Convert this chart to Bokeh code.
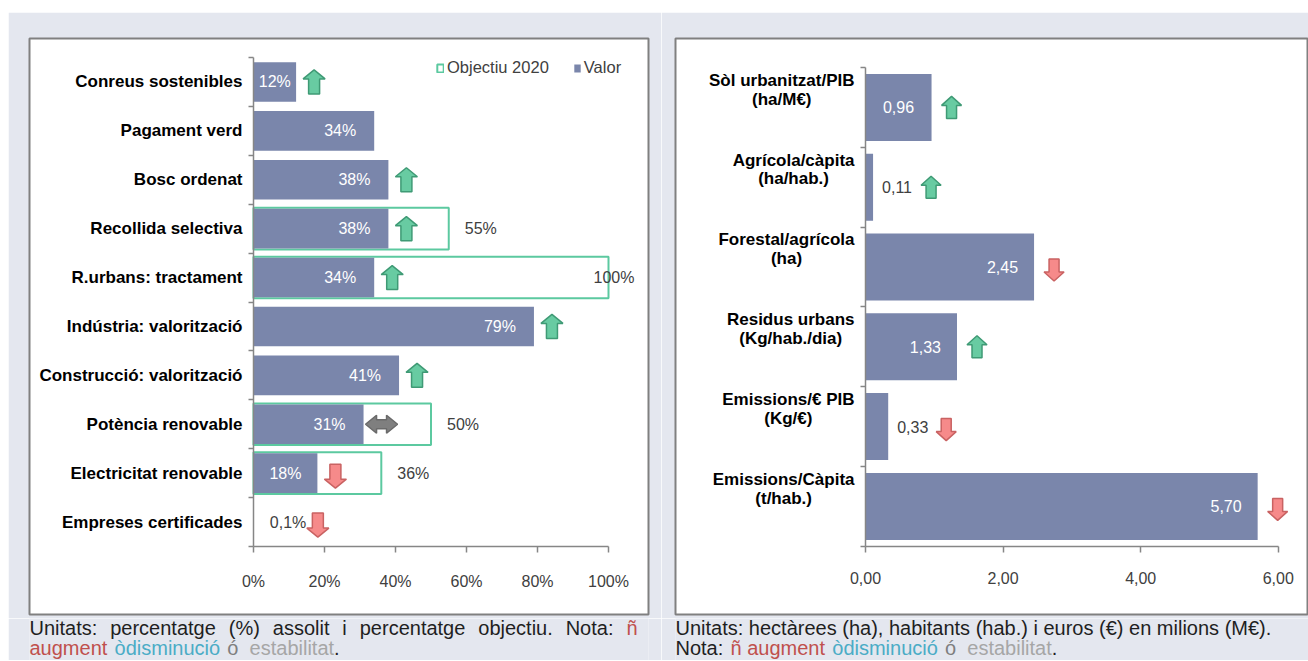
from bokeh.plotting import figure
from bokeh.models import Range1d, LinearAxis, FixedTicker, Legend, LegendItem, Spacer
from bokeh.layouts import row, column
from bokeh.embed import file_html
from bokeh.resources import INLINE
from bokeh.core.properties import value

# ------------------------------------------------------------------ data
left_categories = ["Conreus sostenibles", "Pagament verd", "Bosc ordenat", "Recollida selectiva",
                   "R.urbans: tractament", "Indústria: valorització", "Construcció: valorització",
                   "Potència renovable", "Electricitat renovable", "Empreses certificades"]
left_values = [12, 34, 38, 38, 34, 79, 41, 31, 18, 0.1]
left_targets = [None, None, None, 55, 100, None, None, 50, 36, None]
left_trends = ["up", None, "up", "up", "up", "up", "up", "flat", "down", "down"]
left_ticks = [0, 20, 40, 60, 80, 100]

right_categories = ["Sòl urbanitzat/PIB", "Agrícola/càpita", "Forestal/agrícola",
                    "Residus urbans", "Emissions/€ PIB", "Emissions/Càpita"]
right_units = ["(ha/M€)", "(ha/hab.)", "(ha)", "(Kg/hab./dia)", "(Kg/€)", "(t/hab.)"]
right_values = [0.96, 0.11, 2.45, 1.33, 0.33, 5.70]
right_trends = ["up", "up", "down", "up", "down", "down"]
right_ticks = [0, 2, 4, 6]

legend_labels = ["Objectiu 2020", "Valor"]

# ------------------------------------------------------------------ style
BG = "#E4E7EF"
FONT = "Liberation Sans"
BAR = "#7A86AB"
TARGET = "#5CC9A0"
AXIS = "#868686"
DARK = "#404040"
UP_FILL, UP_LINE = "#68CBA2", "#3F9A75"
DN_FILL, DN_LINE = "#F68A8A", "#C96262"
EQ_FILL, EQ_LINE = "#7F7F7F", "#6A6A6A"
CAT_FS = 17

# Arial / Liberation Sans Bold advance widths (1/1000 em)
BW = {" ": 278, "(": 333, ")": 333, "/": 278, ".": 278, "€": 556, "a": 556, "b": 611, "c": 556,
      "d": 611, "e": 556, "g": 611, "h": 611, "i": 278, "k": 556, "l": 278, "m": 889, "n": 611,
      "o": 611, "p": 611, "r": 389, "s": 556, "t": 333, "u": 611, "z": 500, "à": 556, "ò": 611,
      "í": 278, "A": 722, "B": 722, "C": 722, "E": 667, "F": 611, "G": 778, "I": 278, "K": 722,
      "M": 833, "P": 667, "R": 722, "S": 667}


def bold_w(s, fs):
    return sum(BW.get(c, 611) for c in s) * fs / 1000.0


def arrow_patch(kind, xc, yc, kx, ky, W, H, S, Hh):
    if kind == "flat":
        L, T, hl = 32, 18, 11
        pts = [(-L / 2, 0), (-L / 2 + hl, -T / 2), (-L / 2 + hl, -T / 4), (L / 2 - hl, -T / 4),
               (L / 2 - hl, -T / 2), (L / 2, 0), (L / 2 - hl, T / 2), (L / 2 - hl, T / 4),
               (-L / 2 + hl, T / 4), (-L / 2 + hl, T / 2)]
    else:
        pts = [(0, -H / 2), (W / 2, -H / 2 + Hh), (S / 2, -H / 2 + Hh), (S / 2, H / 2),
               (-S / 2, H / 2), (-S / 2, -H / 2 + Hh), (-W / 2, -H / 2 + Hh)]
        if kind == "down":
            pts = [(dx, -dy + 3) for dx, dy in pts]
    return [xc + dx / kx for dx, dy in pts], [yc + dy / ky for dx, dy in pts]


def make_chart(width, height, borders, categories, values, ticks, tick_fmt, px_per_x, zero_px,
               row_px, top_px, bar_h, label_fmt, trends, arrow_gaps, arrow_size,
               inside_pad, outside_pad, label_dy=0.0, targets=None, units=None, units_dy=0.0):
    bl, br, bt, bb = borders
    fw, fh = width - bl - br, height - bt - bb
    n = len(categories)
    x0 = -zero_px / px_per_x
    x1 = x0 + fw / px_per_x
    ytop = -0.5 - top_px / row_px
    ybot = ytop + fh / row_px
    p = figure(width=width, height=height, x_range=Range1d(x0, x1), y_range=Range1d(ybot, ytop),
               output_backend="svg", toolbar_location=None,
               min_border_left=bl, min_border_right=br, min_border_top=bt, min_border_bottom=bb,
               background_fill_color="white", border_fill_color=BG,
               outline_line_color="#808080", outline_line_width=2)
    p.grid.visible = False

    xa = p.xaxis[0]
    xa.fixed_location = n - 0.5
    xa.bounds = (0, ticks[-1])
    xa.ticker = FixedTicker(ticks=ticks)
    xa.major_label_overrides = {t: tick_fmt(t) for t in ticks}
    xa.axis_line_color = AXIS
    xa.axis_line_width = 1.5
    xa.major_tick_line_color = AXIS
    xa.major_tick_line_width = 1.5
    xa.major_tick_in = 0
    xa.major_tick_out = 6
    xa.minor_tick_line_color = None
    xa.major_label_standoff = 20
    xa.major_label_text_font = FONT
    xa.major_label_text_font_size = "16px"
    xa.major_label_text_color = DARK

    ya = p.yaxis[0]
    ya.fixed_location = 0
    bticks = [i - 0.5 for i in range(n + 1)]
    ya.ticker = FixedTicker(ticks=bticks)
    ya.major_label_overrides = {t: "" for t in bticks}
    ya.bounds = (-0.5, n - 0.5)
    ya.axis_line_color = AXIS
    ya.axis_line_width = 1.5
    ya.major_tick_line_color = AXIS
    ya.major_tick_line_width = 1.5
    ya.major_tick_in = 0
    ya.major_tick_out = 5
    ya.minor_tick_line_color = None

    lpos = [i + label_dy for i in range(n)]
    la = LinearAxis(fixed_location=0, ticker=FixedTicker(ticks=lpos),
                    major_label_overrides={lp: c for lp, c in zip(lpos, categories)},
                    axis_line_color=None, major_tick_line_color=None, minor_tick_line_color=None,
                    major_tick_in=0, major_tick_out=0, major_label_standoff=11,
                    major_label_text_font=FONT, major_label_text_font_size=f"{CAT_FS}px",
                    major_label_text_font_style="bold", major_label_text_color="#000000")
    p.add_layout(la, "left")
    if units is not None:
        ux = [-(11 + bold_w(c, CAT_FS) / 2) / px_per_x for c in categories]
        uy = [i + units_dy for i in range(n)]
        p.text(x=ux, y=uy, text=units, text_align="center", text_baseline="middle",
               text_font=value(FONT), text_font_size=f"{CAT_FS}px", text_font_style="bold",
               text_color="#000000")

    ys = list(range(n))
    r_obj = None
    if targets is not None:
        ty = [i for i, t in enumerate(targets) if t is not None]
        tv = [targets[i] for i in ty]
        r_obj = p.hbar(y=ty, left=0, right=tv, height=bar_h + 0.04, fill_color="white",
                       line_color=TARGET, line_width=2)
    r_val = p.hbar(y=ys, left=0, right=values, height=bar_h, fill_color=BAR, line_color=None)

    groups = {"in": ([], [], []), "mid": ([], [], []), "out": ([], [], [])}
    for i, v in enumerate(values):
        bar_px = v * px_per_x
        txt = label_fmt(v)
        if bar_px > 70:
            g = groups["in"]; g[0].append(v + inside_pad / px_per_x)
        elif bar_px > 40:
            g = groups["mid"]; g[0].append(v / 2)
        else:
            g = groups["out"]; g[0].append(v + outside_pad / px_per_x)
        g[1].append(i); g[2].append(txt)
    common = dict(text_font=value(FONT), text_font_size="16px", text_baseline="middle")
    p.text(x=groups["in"][0], y=groups["in"][1], text=groups["in"][2], text_align="right",
           text_color="#FFFFFF", **common)
    p.text(x=groups["mid"][0], y=groups["mid"][1], text=groups["mid"][2], text_align="center",
           text_color="#FFFFFF", **common)
    p.text(x=groups["out"][0], y=groups["out"][1], text=groups["out"][2], text_align="left",
           text_color=DARK, **common)

    if targets is not None:
        tx, tyy, tt = [], [], []
        for i, t in enumerate(targets):
            if t is None:
                continue
            off = 16 if t < 95 else -15
            tx.append(t + off / px_per_x); tyy.append(i); tt.append(label_fmt(t))
        p.text(x=tx, y=tyy, text=tt, text_align="left", text_color=DARK, **common)

    W, H, S, Hh = arrow_size
    shapes = {"up": ([], []), "down": ([], []), "flat": ([], [])}
    for i, (v, tr) in enumerate(zip(values, trends)):
        if tr is None:
            continue
        gap = arrow_gaps[0] if v * px_per_x > 40 else arrow_gaps[1]
        xs_, ys_ = arrow_patch(tr, v + gap / px_per_x, i, px_per_x, row_px, W, H, S, Hh)
        shapes[tr][0].append(xs_); shapes[tr][1].append(ys_)
    for k, (fc, lc) in {"up": (UP_FILL, UP_LINE), "down": (DN_FILL, DN_LINE),
                        "flat": (EQ_FILL, EQ_LINE)}.items():
        if shapes[k][0]:
            p.patches(xs=shapes[k][0], ys=shapes[k][1], fill_color=fc, line_color=lc, line_width=1.5)
    return p, r_obj, r_val


pct = lambda v: (f"{v:g}".replace(".", ",")) + "%"
dec2 = lambda v: f"{v:.2f}".replace(".", ",")

L_W, R_W, CH_H = 653, 647, 606
L_B = (21, 13, 26, 4)
R_B = (14, 0, 26, 4)

left, r_obj, r_val = make_chart(
    L_W, CH_H, L_B, left_categories, left_values, left_ticks, lambda t: f"{t}%",
    3.55, 224, 48.9, 19, 0.81, pct, left_trends, (18, 64), (22, 24, 11, 9),
    -18, 16, 0.0, targets=left_targets)

legend = Legend(items=[LegendItem(label=legend_labels[0], renderers=[r_obj]),
                       LegendItem(label=legend_labels[1], renderers=[r_val])],
                orientation="horizontal", location=(407, 537), border_line_color=None,
                background_fill_alpha=0, label_text_font=FONT, label_text_font_size="16.5px",
                label_text_color=DARK, glyph_width=8, glyph_height=10, label_standoff=3,
                spacing=24, padding=0, margin=0)
left.add_layout(legend)

right, _, _ = make_chart(
    R_W, CH_H, R_B, right_categories, right_values, right_ticks,
    lambda t: f"{t:.2f}".replace(".", ","),
    68.8, 190, 79.8, 29, 0.84, dec2, right_trends, (20, 58), (20, 22, 10, 9),
    -16, 9, -0.34, units=right_units, units_dy=-0.105)

# ------------------------------------------------------------------ notes
CW = {" ": 278, ".": 278, ",": 278, ":": 278, "(": 333, ")": 333, "%": 889, "/": 278, "€": 556,
      "a": 556, "b": 556, "c": 500, "d": 556, "e": 556, "f": 278, "g": 556, "h": 556, "i": 222,
      "j": 222, "k": 500, "l": 222, "m": 833, "n": 556, "o": 556, "p": 556, "q": 556, "r": 333,
      "s": 500, "t": 278, "u": 556, "v": 500, "x": 500, "y": 500, "z": 500, "à": 556, "ò": 556,
      "ó": 556, "ñ": 556, "è": 556, "A": 667, "M": 833, "N": 722, "U": 722}
NFS = 20
NOTE_H = 42
LINE1_Y, LINE2_Y = 9, 29


def tw(s):
    return sum(CW.get(c, 556) for c in s) * NFS / 1000.0


RED, BLUE, GREY, LGREY, BLACK = "#C0504D", "#4BACC6", "#7F7F7F", "#A6A6A6", "#1F1F1F"


def note_fig(width, borders, items):
    bl, br = borders[0], borders[1]
    fw = width - bl - br
    f = figure(width=width, height=NOTE_H, x_range=Range1d(0, fw), y_range=Range1d(NOTE_H, 0),
               x_axis_type=None, y_axis_type=None, output_backend="svg", toolbar_location=None,
               min_border_left=bl, min_border_right=br, min_border_top=0, min_border_bottom=0,
               background_fill_color=BG, border_fill_color=BG, outline_line_color=None)
    f.grid.visible = False
    by_color = {}
    for txt, x, y, col in items:
        d = by_color.setdefault(col, ([], [], []))
        d[0].append(x); d[1].append(y); d[2].append(txt)
    for col, (xs, ys, ts) in by_color.items():
        f.text(x=xs, y=ys, text=ts, text_color=col, text_font=value(FONT), text_font_size=f"{NFS}px",
               text_align="left", text_baseline="middle")
    return f


def seq(segments, x, y):
    out = []
    for txt, col, spaces in segments:
        x += spaces * tw(" ")
        out.append((txt, x, y, col))
        x += tw(txt)
    return out


words = ["Unitats:", "percentatge", "(%)", "assolit", "i", "percentatge", "objectiu.", "Nota:", "ñ"]
wcols = [BLACK] * 8 + [RED]
x0, x1 = 0, 608
gap = (x1 - x0 - sum(tw(w) for w in words)) / (len(words) - 1)
items_l = []
x = x0
for w, c in zip(words, wcols):
    items_l.append((w, x, LINE1_Y, c))
    x += tw(w) + gap
items_l += seq([("augment", RED, 0), ("òdisminució", BLUE, 1.3), ("ó", GREY, 1.3),
                ("estabilitat", LGREY, 2), (".", BLACK, 0)], 0, LINE2_Y)
note_l = note_fig(L_W, L_B, items_l)

items_r = [("Unitats: hectàrees (ha), habitants (hab.) i euros (€) en milions (M€).", 0, LINE1_Y, BLACK)]
items_r += seq([("Nota:", BLACK, 0), ("ñ augment", RED, 1.3), ("òdisminució", BLUE, 1.3),
                ("ó", GREY, 1.3), ("estabilitat", LGREY, 2), (".", BLACK, 0)], 0, LINE2_Y)
note_r = note_fig(R_W, R_B, items_r)

layout = column(Spacer(height=12),
                row(Spacer(width=8), column(left, note_l), column(right, note_r)))
open("out.html", "w").write(file_html(layout, INLINE))
